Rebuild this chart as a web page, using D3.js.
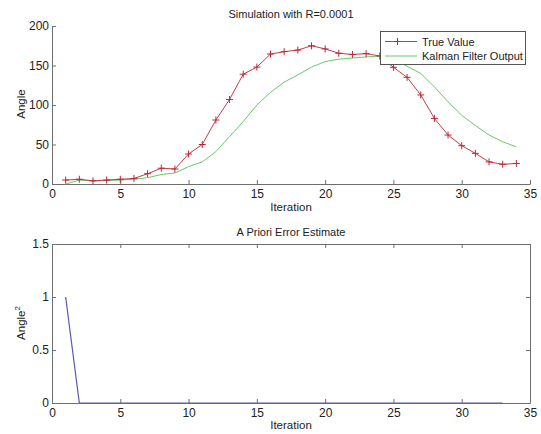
<!DOCTYPE html>
<html><head><meta charset="utf-8">
<script src="https://cdn.jsdelivr.net/npm/d3@7"></script>
<style>body{margin:0;background:#fff;} text{font-family:"Liberation Sans",Arial,sans-serif;}</style>
</head><body><svg id="c" width="541" height="434"></svg>
<script>
const iterations = d3.range(1, 35);
const trueValue = [5,6,4,5,6,7,13,20,19,38,50,81,107,139,148,164.5,167.5,169.5,175,171,165.5,164,165,162,147.7,135,112.7,83,62,48.5,38.8,28,25,26];
const kalmanOutput = [0,5,4,4.5,5,6,8,12,14,22,28,41,60,79,100,116,129,138,148,155,158,159.5,160.8,162,158,149,140,123,104,87,74,62,53.5,47];
const errorIterations = d3.range(1, 34);
const errorEstimate = [1].concat(d3.range(2, 34).map(() => 0.0001));
const xTicks = [0,5,10,15,20,25,30,35];
const yTicksTop = [0,50,100,150,200];
const yTicksBottom = [0,0.5,1,1.5];

const svg = d3.select("#c");
const axisCol = "#6e6e6e", txtCol = "#222";
const x = d3.scaleLinear().domain([0,35]).range([52,530]);
const yT = d3.scaleLinear().domain([0,200]).range([184,26]);
const yB = d3.scaleLinear().domain([0,1.5]).range([403,244]);

function styleAxis(g){
  g.selectAll("path").attr("stroke",axisCol);
  g.selectAll("line").attr("stroke",axisCol);
  g.selectAll("text").attr("fill",txtCol).style("font-size","12px");
}

// Top plot
svg.append("g").attr("transform","translate(0,184)")
  .call(d3.axisBottom(x).tickValues(xTicks).tickSize(-4).tickPadding(5).tickSizeOuter(0))
  .call(styleAxis);
svg.append("g").attr("transform","translate(52,0)")
  .call(d3.axisLeft(yT).tickValues(yTicksTop).tickSize(-4).tickPadding(3).tickSizeOuter(0))
  .call(styleAxis);

const lineT = d3.line().x((d,i)=>x(iterations[i])).y(d=>yT(d));
svg.append("path").datum(kalmanOutput).attr("d",lineT).attr("fill","none").attr("stroke","#66cc66").attr("stroke-width",1);
svg.append("path").datum(trueValue).attr("d",lineT).attr("fill","none").attr("stroke","#c83c46").attr("stroke-width",1);
svg.append("g").selectAll("path").data(trueValue).join("path")
  .attr("d",(d,i)=>{const cx=x(iterations[i]),cy=yT(d);return `M${cx-3.5},${cy}H${cx+3.5}M${cx},${cy-3.5}V${cy+3.5}`;})
  .attr("stroke","#b8283a").attr("stroke-width",1);

svg.append("text").attr("x",291).attr("y",18).attr("text-anchor","middle").attr("fill",txtCol).style("font-size","11px").text("Simulation with R=0.0001");
svg.append("text").attr("x",291).attr("y",211).attr("text-anchor","middle").attr("fill",txtCol).style("font-size","11.5px").text("Iteration");
svg.append("text").attr("transform","translate(25,104) rotate(-90)").attr("text-anchor","middle").attr("fill",txtCol).style("font-size","11.5px").text("Angle");

// Legend
const lg = svg.append("g");
lg.append("rect").attr("x",380.5).attr("y",31.5).attr("width",145).attr("height",33).attr("fill","#fff").attr("stroke","#555");
lg.append("line").attr("x1",385).attr("x2",417).attr("y1",41.5).attr("y2",41.5).attr("stroke","#c83c46");
lg.append("path").attr("d","M397.5,38V45M394,41.5H401").attr("stroke","#b8283a");
lg.append("line").attr("x1",385).attr("x2",417).attr("y1",56).attr("y2",56).attr("stroke","#66cc66");
lg.append("text").attr("x",422).attr("y",45.5).attr("fill",txtCol).style("font-size","11px").text("True Value");
lg.append("text").attr("x",422).attr("y",60).attr("fill",txtCol).style("font-size","11px").text("Kalman Filter Output");

// Bottom plot
svg.append("g").attr("transform","translate(0,403)")
  .call(d3.axisBottom(x).tickValues(xTicks).tickSize(-4).tickPadding(5).tickSizeOuter(0))
  .call(styleAxis);
svg.append("g").attr("transform","translate(52,0)")
  .call(d3.axisLeft(yB).tickValues(yTicksBottom).tickFormat(d3.format("")).tickSize(-4).tickPadding(3).tickSizeOuter(0))
  .call(styleAxis);
svg.append("g").attr("transform","translate(0,244)")
  .call(d3.axisTop(x).tickValues(xTicks).tickSize(-4).tickFormat("").tickSizeOuter(0))
  .call(styleAxis);
svg.append("g").attr("transform","translate(530,0)")
  .call(d3.axisRight(yB).tickValues(yTicksBottom).tickSize(-4).tickFormat("").tickSizeOuter(0))
  .call(styleAxis);

const lineB = d3.line().x((d,i)=>x(errorIterations[i])).y(d=>yB(d));
svg.append("path").datum(errorEstimate).attr("d",lineB).attr("fill","none").attr("stroke","#5a5aa0").attr("stroke-width",1.2);

svg.append("text").attr("x",291).attr("y",236).attr("text-anchor","middle").attr("fill",txtCol).style("font-size","11px").text("A Priori Error Estimate");
svg.append("text").attr("x",291).attr("y",429).attr("text-anchor","middle").attr("fill",txtCol).style("font-size","11.5px").text("Iteration");
const al = svg.append("text").attr("transform","translate(25,323) rotate(-90)").attr("text-anchor","middle").attr("fill",txtCol).style("font-size","11.5px");
al.append("tspan").text("Angle");
al.append("tspan").attr("dy",-5).style("font-size","8px").text("2");
</script></body></html>
